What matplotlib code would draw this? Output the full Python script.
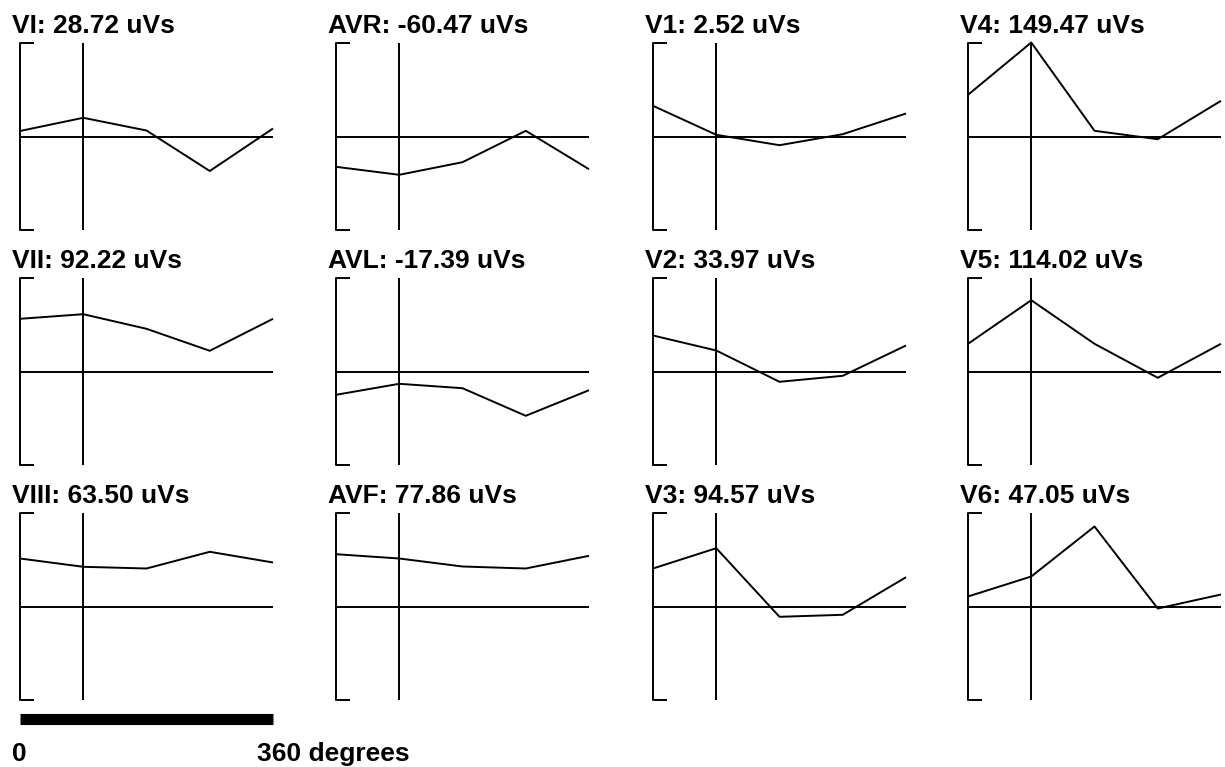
import matplotlib
matplotlib.use("Agg")
import matplotlib.pyplot as plt

plt.rcParams['font.family'] = ['Liberation Sans', 'DejaVu Sans']

# loop angles (degrees)
angles = [0, 90, 180, 270, 360]

# lead names and loop areas shown in the titles
leads = ["VI", "AVR", "V1", "V4",
         "VII", "AVL", "V2", "V5",
         "VIII", "AVF", "V3", "V6"]
areas = [28.72, -60.47, 2.52, 149.47,
         92.22, -17.39, 33.97, 114.02,
         63.50, 77.86, 94.57, 47.05]

# amplitude at each angle
vi = [5.5, 18.7, 6, -34.5, 8]
avr = [-30.3, -38.3, -25.7, 5.7, -32.7]
v1 = [30.7, 1.7, -8.7, 2.3, 23]
v4 = [41.7, 94, 5.7, -2.7, 35.7]
vii = [52.7, 57.3, 42.7, 20.7, 52.7]
avl = [-23.3, -12.3, -16.7, -44.3, -18.7]
v2 = [36, 21, -10.3, -4.3, 26]
v5 = [27.7, 71.3, 27.7, -6.3, 27.7]
viii = [48, 39.7, 38, 54.7, 44]
avf = [52.3, 48, 40, 38, 50.7]
v3 = [38, 58.3, -10.3, -8.3, 29.3]
v6 = [10, 30, 80, -2, 12]

series = [vi, avr, v1, v4, vii, avl, v2, v5, viii, avf, v3, v6]

ymax = 93.5
W, H = 1225, 767
lw = 1.4

fig = plt.figure(figsize=(W / 100, H / 100), dpi=100)

col_left = [20, 336, 653, 968]
row_top = [43, 278, 513]
ax_w, ax_h = 253, 187

for i, name in enumerate(leads):
    r, c = divmod(i, 4)
    x0, y0 = col_left[c], row_top[r]
    ax = fig.add_axes([x0 / W, 1 - (y0 + ax_h) / H, ax_w / W, ax_h / H])
    ax.set_xlim(0, 360)
    ax.set_ylim(-ymax, ymax)
    ax.axis("off")
    kw = dict(color="black", lw=lw, clip_on=False, solid_capstyle="butt")
    # bracket
    ax.plot([20, 0, 0, 20], [ymax, ymax, -ymax, -ymax], **kw)
    # 90 degree marker and zero line
    ax.plot([90, 90], [-ymax, ymax], **kw)
    ax.plot([0, 360], [0, 0], **kw)
    ax.plot(angles, series[i], **kw)
    fig.text((x0 - 8) / W, 1 - (y0 - 10) / H, f"{name}: {areas[i]:.2f} uVs",
             fontsize=19, fontweight="bold", ha="left", va="baseline")

# scale bar
sax = fig.add_axes([20 / W, 1 - 724 / H, ax_w / W, 11 / H])
sax.set_xlim(0, 360)
sax.set_ylim(-1, 1)
sax.axis("off")
sax.plot([0, 360], [0, 0], color="black", lw=8, solid_capstyle="butt", clip_on=False)
fig.text(12 / W, 1 - 761 / H, "0", fontsize=19, fontweight="bold", ha="left", va="baseline")
fig.text(257 / W, 1 - 761 / H, "360 degrees", fontsize=19, fontweight="bold",
         ha="left", va="baseline")

fig.savefig("out.png", dpi=100, facecolor="white")
